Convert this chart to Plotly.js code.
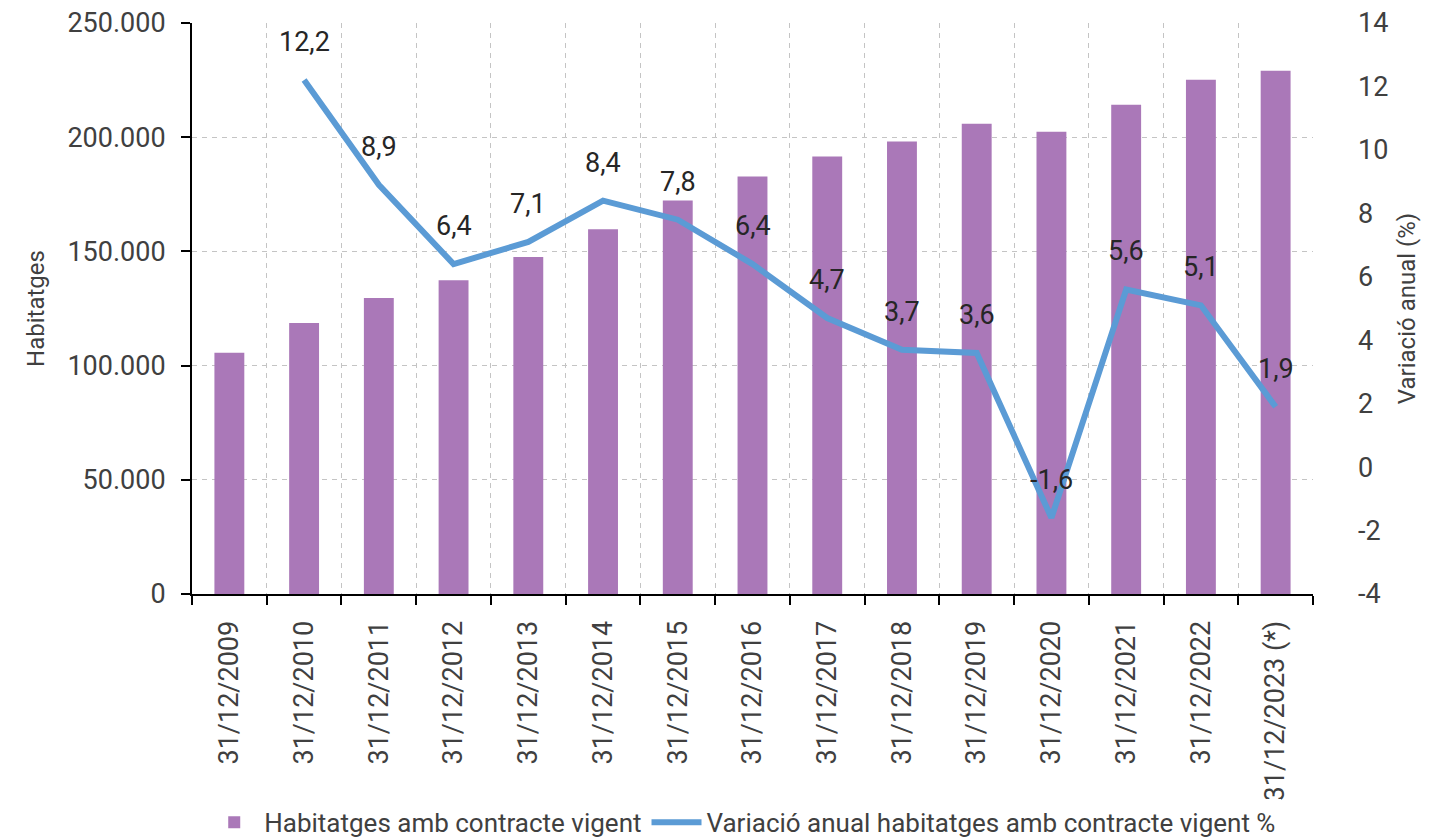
<!DOCTYPE html>
<html>
<head>
<meta charset="utf-8">
<script src="https://cdn.plot.ly/plotly-3.0.1.min.js"></script>
<style>html,body{margin:0;padding:0;background:#fff;}#chart{width:1445px;height:840px;}</style>
</head>
<body>
<div id="chart"></div>
<script>
const categories = ["31/12/2009","31/12/2010","31/12/2011","31/12/2012","31/12/2013","31/12/2014","31/12/2015","31/12/2016","31/12/2017","31/12/2018","31/12/2019","31/12/2020","31/12/2021","31/12/2022","31/12/2023 (*)"];
const habitatges = [105600, 118700, 129600, 137400, 147500, 159700, 172300, 182800, 191500, 198100, 205900, 202400, 214200, 225100, 229100];
const variacio = [null, 12.2, 8.9, 6.4, 7.1, 8.4, 7.8, 6.4, 4.7, 3.7, 3.6, -1.6, 5.6, 5.1, 1.9];
const y2TickVals = [-4, -2, 0, 2, 4, 6, 8, 10, 12, 14];
const y2TickText = ["-4", "-2", "0", "2", "4", "6", "8", "10", "12", "14"];
const barName = "Habitatges amb contracte vigent";
const lineName = "Variació anual habitatges amb contracte vigent %";

const FONT = "Roboto, 'Liberation Sans', sans-serif";
const TXT = "#404040";

const traces = [
  {type:"bar", x:categories, y:habitatges, name:barName, marker:{color:"#AA78B8"}, yaxis:"y"},
  {type:"scatter", mode:"lines", x:categories, y:variacio, name:lineName, line:{color:"#5B9BD5", width:6}, yaxis:"y2", connectgaps:false}
];

const annotations = [];
categories.forEach((c,i)=>{
  if (variacio[i] === null) return;
  annotations.push({x:c, y:variacio[i], xref:"x", yref:"y2", text:String(variacio[i]).replace(".", ","), showarrow:false, yshift:38, font:{family:FONT, size:27, color:"#262626"}});
});

const layout = {
  width:1445, height:840,
  margin:{l:192, r:132, t:23, b:246},
  paper_bgcolor:"#fff", plot_bgcolor:"#fff",
  separators:",.",
  font:{family:FONT, size:26, color:TXT},
  bargap:0.6,
  showlegend:true,
  legend:{orientation:"h", xref:"container", yref:"container", x:0.514, xanchor:"center", y:0.021, yanchor:"middle", font:{family:FONT, size:26, color:TXT}, itemwidth:50},
  xaxis:{type:"category", tickangle:-90, tickson:"boundaries", ticks:"outside", ticklen:9, tickwidth:2, tickcolor:"#000",
    showline:true, linecolor:"#000", linewidth:2, showgrid:true, gridcolor:"#c4c4c4", griddash:"5px,5px", gridwidth:1,
    ticklabelstandoff:14, tickfont:{family:FONT, size:27, color:TXT}, automargin:false},
  yaxis:{range:[0,250000], dtick:50000, tickformat:",d", showline:true, linecolor:"#000", linewidth:2, ticks:"outside", ticklen:9, tickwidth:2, tickcolor:"#000",
    showgrid:true, gridcolor:"#c4c4c4", griddash:"5px,5px", gridwidth:1, zeroline:false, ticklabelstandoff:10,
    tickfont:{family:FONT, size:27, color:TXT}, title:{text:"Habitatges", font:{family:FONT, size:24, color:TXT}, standoff:16}, automargin:false},
  yaxis2:{overlaying:"y", side:"right", range:[-4,14], tickvals:y2TickVals, ticktext:y2TickText, showgrid:false, zeroline:false, showline:false, ticks:"", ticklabelstandoff:44,
    tickfont:{family:FONT, size:27, color:TXT}, title:{text:"Variació anual (%)", font:{family:FONT, size:24, color:TXT}, standoff:10}, automargin:false},
  annotations:annotations
};

Plotly.newPlot("chart", traces, layout, {displayModeBar:false, staticPlot:true});
</script>
</body>
</html>
